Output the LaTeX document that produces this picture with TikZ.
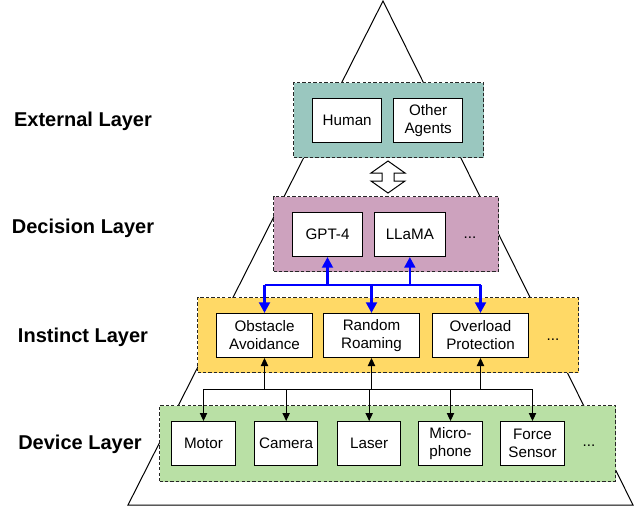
\documentclass[tikz,border=0pt]{standalone}
\usepackage{fontspec}
\setmainfont{Liberation Sans}
\usetikzlibrary{arrows.meta}
\definecolor{cExt}{HTML}{9AC7BF}
\definecolor{cDec}{HTML}{CDA2BE}
\definecolor{cIns}{HTML}{FFD966}
\definecolor{cDev}{HTML}{B9E0A5}
\definecolor{cBlue}{HTML}{0000FF}
\tikzset{
  layerbox/.style={draw=black!85, dash pattern=on 2.5pt off 1.6pt, line width=0.75pt, inner sep=0pt, anchor=north west},
  itembox/.style={draw=black, fill=white, line width=0.75pt, inner sep=0pt, minimum height=33pt, align=center, font=\fontsize{11.4}{13.5}\selectfont, anchor=north west},
  dots/.style={font=\fontsize{11.4}{13.5}\selectfont},
  layerlabel/.style={font=\bfseries\fontsize{15}{18}\selectfont},
  bluearrow/.style={draw=cBlue, line width=2pt, -{Triangle[length=8pt,width=8pt]}},
  blueline/.style={draw=cBlue, line width=2pt},
  blackarrow/.style={draw=black, line width=0.75pt, -{Triangle[length=6pt,width=5.5pt]}},
  blackline/.style={draw=black, line width=0.75pt},
}
\begin{document}
\begin{tikzpicture}[x=0.75pt,y=-0.75pt]
\useasboundingbox (0,0) rectangle (640,512);
% pyramid
\draw[line width=0.75pt] (383,1) -- (128,505) -- (633,505) -- cycle;
% layer boxes
\node[layerbox, fill=cExt, minimum width=142.5pt, minimum height=56.25pt] (ext) at (293,82) {};
\node[layerbox, fill=cDec, minimum width=168.75pt, minimum height=56.25pt] (dec) at (273,196) {};
\node[layerbox, fill=cIns, minimum width=285.75pt, minimum height=56.25pt] (ins) at (197,297) {};
\node[layerbox, fill=cDev, minimum width=342pt, minimum height=57pt] (dev) at (159,405) {};
% external
\node[itembox, minimum width=52pt] (human) at (312,98) {Human};
\node[itembox, minimum width=52pt] (other) at (393,98) {Other\\Agents};
% double arrow
\draw[line width=0.75pt, fill=white] (388,161) -- (405,173) -- (394,173) -- (394,181) -- (405,181) -- (388,193) -- (371,181) -- (382,181) -- (382,173) -- (371,173) -- cycle;
% decision
\node[itembox, minimum width=52.5pt] (gpt) at (292,212) {GPT-4};
\node[itembox, minimum width=53pt] (llama) at (374,212) {LLaMA};
\node[dots] (ddots) at (470,238) {...};
% instinct
\node[itembox, minimum width=72pt] (obst) at (216,313) {Obstacle\\Avoidance};
\node[itembox, minimum width=72pt] (rand) at (323,313) {Random\\Roaming};
\node[itembox, minimum width=72pt] (over) at (432,313) {Overload\\Protection};
\node[dots] (idots) at (553,340) {...};
% device
\node[itembox, minimum width=48pt] (motor) at (171,421) {Motor};
\node[itembox, minimum width=47.5pt] (camera) at (254,421) {Camera};
\node[itembox, minimum width=47.5pt] (laser) at (337,421) {Laser};
\node[itembox, minimum width=48pt] (mic) at (418,421) {Micro-\\phone};
\node[itembox, minimum width=48pt] (force) at (500,421) {Force\\Sensor};
\node[dots] (vdots) at (589,446) {...};
% layer labels
\node[layerlabel] (lext) at (83,121) {External Layer};
\node[layerlabel] (ldec) at (83,228) {Decision Layer};
\node[layerlabel] (lins) at (83,337) {Instinct Layer};
\node[layerlabel] (ldev) at (80,444) {Device Layer};
% blue connections
\coordinate (bus) at (0,285);
\draw[blueline] (obst.north |- bus) -- (over.north |- bus);
\draw[bluearrow] (gpt.south |- bus) -- (gpt.south);
\draw[bluearrow] (llama.south |- bus) -- (llama.south);
\draw[bluearrow] (obst.north |- bus) -- (obst.north);
\draw[bluearrow] (rand.north |- bus) -- (rand.north);
\draw[bluearrow] (over.north |- bus) -- (over.north);
% black connections
\coordinate (jn) at (0,389);
\draw[blackline] (motor.north |- jn) -- (force.north |- jn);
\draw[blackarrow] (obst.south |- jn) -- (obst.south);
\draw[blackarrow] (rand.south |- jn) -- (rand.south);
\draw[blackarrow] (over.south |- jn) -- (over.south);
\draw[blackarrow] (motor.north |- jn) -- (motor.north);
\draw[blackarrow] (camera.north |- jn) -- (camera.north);
\draw[blackarrow] (laser.north |- jn) -- (laser.north);
\draw[blackarrow] (mic.north |- jn) -- (mic.north);
\draw[blackarrow] (force.north |- jn) -- (force.north);
\end{tikzpicture}
\end{document}
